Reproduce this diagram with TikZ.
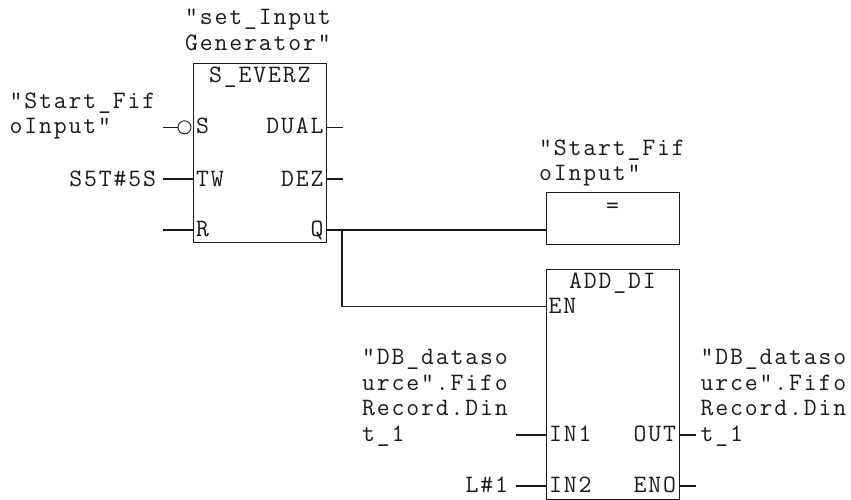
\documentclass[tikz,border=0pt]{standalone}
\usepackage{fontspec}
\setmonofont[LetterSpace=7.5]{Latin Modern Mono}
\usetikzlibrary{positioning,calc}
\definecolor{FBDInk}{HTML}{1A1A1A}
\begin{document}
\begin{tikzpicture}[
  x=1pt,y=-1pt,
  txt/.style={inner sep=0pt,outer sep=0pt,text=FBDInk,font=\fontsize{25}{25.6}\selectfont\ttfamily},
  lbl/.style={txt,align=left,anchor=north west},
  pinl/.style={txt,anchor=base west},
  pinr/.style={txt,anchor=base east},
  fbox/.style={draw=FBDInk,line width=0.9pt,inner sep=0pt,anchor=north west},
  wire/.style={draw=FBDInk,line width=1.4pt},
]
\useasboundingbox (0,0) rectangle (851,500);
% timer block
\node[fbox,minimum width=133pt,minimum height=179pt] (ever) at (192.5,63) {};
\node[pinl] (evertitle) at (209,83) {S\_EVERZ};
\node[lbl] (everdb) at (185,9.5) {"set\_Input\\Generator"};
\node[pinl] (ps) at (196,134) {S};
\node[pinl] (ptw) at (196,186) {TW};
\node[pinl] (pr) at (196,236) {R};
\node[pinr] (pdual) at (323.5,134) {DUAL};
\node[pinr] (pdez) at (323.5,186) {DEZ};
\node[pinr] (pq) at (323.5,236) {Q};
\node[lbl] (startin) at (9.5,92.5) {"Start\_Fif\\oInput"};
\node[pinr] (s5t) at (156,186) {S5T\#5S};
% assignment
\node[fbox,minimum width=133pt,minimum height=52pt] (assign) at (546,191.5) {};
\node[txt,anchor=base] (eq) at (612.5,213) {=};
\node[lbl,above=5pt of assign.north west,anchor=south west,xshift=-7pt] (startout) {"Start\_Fif\\oInput"};
% add block
\node[fbox,minimum width=133pt,minimum height=230.5pt,below=24.5pt of assign.south west,anchor=north west] (add) {};
\node[pinl] (addtitle) at (569,288) {ADD\_DI};
\node[pinl] (pen) at (548.5,313) {EN};
\node[pinl] (pin1) at (549,441) {IN1};
\node[pinl] (pin2) at (549,492) {IN2};
\node[pinr] (pout) at (676,441) {OUT};
\node[pinr] (peno) at (676,492) {ENO};
\node[lbl] (dbin) at (362,349) {"DB\_dataso\\urce".Fifo\\Record.Din\\t\_1};
\node[lbl] (dbout) at (700.5,349) {"DB\_dataso\\urce".Fifo\\Record.Din\\t\_1};
\node[pinr] (lone) at (508,492) {L\#1};
% pin points
\node[circle,draw=FBDInk,line width=0.9pt,minimum size=13pt,inner sep=0pt] (neg) at (184.5,127.3) {};
\coordinate (sfree) at (162.5,127.3);
\coordinate (twfree) at (162.5,179);
\coordinate (twbox) at (192.5,179);
\coordinate (rfree) at (162.5,230);
\coordinate (rbox) at (192.5,230);
\coordinate (dualbox) at (325.5,127.3);
\coordinate (dualfree) at (343,127.3);
\coordinate (dezbox) at (325.5,179);
\coordinate (dezfree) at (343,179);
\coordinate (qbox) at (325.5,230);
\coordinate (qjoin) at (342,230);
\coordinate (assignin) at (546,230);
\coordinate (enbox) at (546,306.5);
\coordinate (in1box) at (546,435);
\coordinate (in1free) at (516,435);
\coordinate (in2box) at (546,486);
\coordinate (in2free) at (516,486);
\coordinate (outbox) at (679,435);
\coordinate (outfree) at (696,435);
\coordinate (enobox) at (679,486);
\coordinate (enofree) at (696,486);
% wires
\draw[wire] (sfree) -- (neg);
\draw[wire] (twfree) -- (twbox);
\draw[wire] (rfree) -- (rbox);
\draw[wire] (dualbox) -- (dualfree);
\draw[wire] (dezbox) -- (dezfree);
\draw[wire] (qbox) -- (assignin);
\draw[wire] (qjoin) |- (enbox);
\draw[wire] (in1free) -- (in1box);
\draw[wire] (in2free) -- (in2box);
\draw[wire] (outbox) -- (outfree);
\draw[wire] (enobox) -- (enofree);
\end{tikzpicture}
\end{document}
